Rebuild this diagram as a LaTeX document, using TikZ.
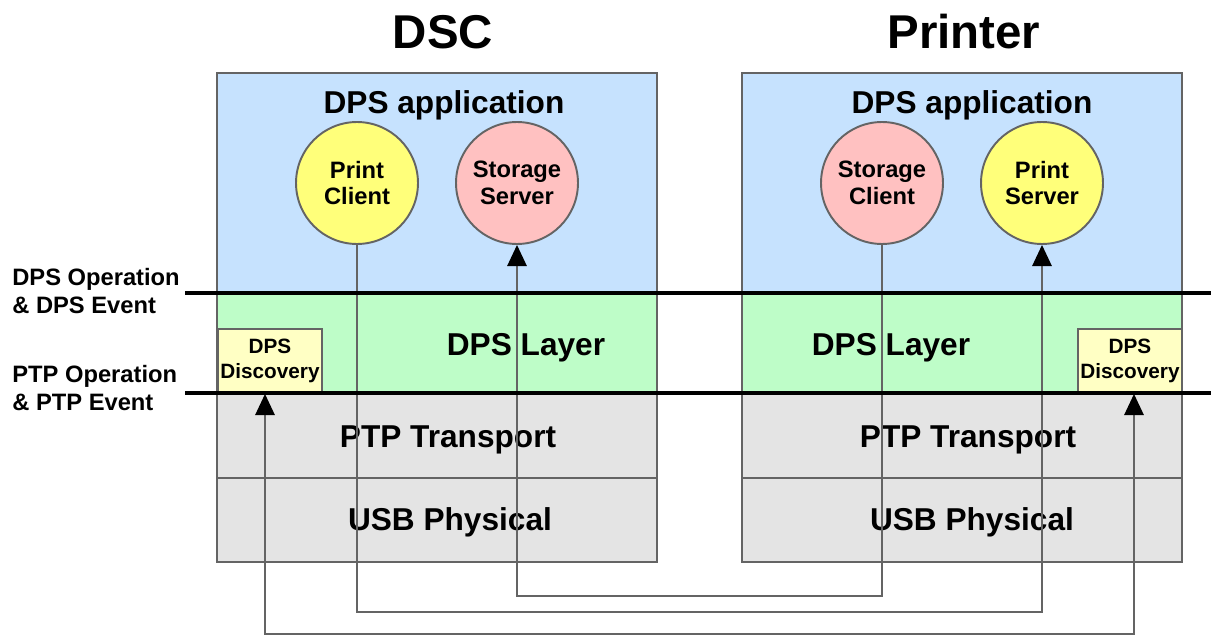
\documentclass[tikz,border=0pt]{standalone}
\usepackage{fontspec}
\setmainfont{Liberation Sans}
\usetikzlibrary{arrows.meta}

\definecolor{appblue}{RGB}{198,226,254}
\definecolor{layergreen}{RGB}{190,253,200}
\definecolor{ptpgray}{RGB}{228,228,228}
\definecolor{clientyellow}{RGB}{255,255,122}
\definecolor{serverpink}{RGB}{255,193,193}
\definecolor{discyellow}{RGB}{255,255,196}
\definecolor{edgegray}{RGB}{100,100,100}

\begin{document}
\begin{tikzpicture}[x=0.02cm,y=-0.02cm,>={Triangle[width=11pt,length=12pt,black]},
    frame/.style={draw=edgegray,line width=1.1pt},
    role/.style={circle,draw=edgegray,line width=1.1pt,minimum size=2.44cm,inner sep=0pt,align=center,font=\bfseries\fontsize{13.5}{15.3}\selectfont},
    disc/.style={draw=edgegray,line width=1.1pt,fill=discyellow,minimum width=2.08cm,minimum height=1.28cm,inner sep=0pt,align=center,font=\bfseries\fontsize{11.8}{14}\selectfont},
    big/.style={font=\bfseries\fontsize{18}{21}\selectfont},
    heading/.style={font=\bfseries\fontsize{27}{30}\selectfont},
    side/.style={anchor=west,align=left,inner sep=0pt,font=\bfseries\fontsize{13.5}{15.5}\selectfont},
    conn/.style={edgegray,line width=1.1pt},
    bus/.style={black,line width=2.3pt}]

    \useasboundingbox (0,0) rectangle (1211,635);

    % the two protocol stacks
    \foreach \x in {217,742} {
            \fill[appblue] (\x,73) rectangle ++(440,220);
            \fill[layergreen] (\x,293) rectangle ++(440,100);
            \fill[ptpgray] (\x,393) rectangle ++(440,169);
            \draw[frame] (\x,73) rectangle ++(440,489);
            \draw[frame] (\x,478) -- ++(440,0);
        }

    % titles
    \node[heading] (dsc) at (443,32) {DSC};
    \node[heading] (printer) at (964,32) {Printer};

    % layer names
    \node[big] (dscapp) at (444,105) {DPS application};
    \node[big] (prnapp) at (972,105) {DPS application};
    \node[big] (dsclayer) at (526,348) {DPS Layer};
    \node[big] (prnlayer) at (891,348) {DPS Layer};
    \node[big] (dscptp) at (448,440) {PTP Transport};
    \node[big] (prnptp) at (968,440) {PTP Transport};
    \node[big] (dscusb) at (450,522) {USB Physical};
    \node[big] (prnusb) at (972,522) {USB Physical};

    % discovery boxes
    \node[disc] (ddsc) at (270,361) {DPS\\Discovery};
    \node[disc] (dprn) at (1130,361) {DPS\\Discovery};

    % service circles
    \node[role,fill=clientyellow] (pclient) at (357,183) {Print\\Client};
    \node[role,fill=serverpink] (sserver) at (517,183) {Storage\\Server};
    \node[role,fill=serverpink] (sclient) at (882,183) {Storage\\Client};
    \node[role,fill=clientyellow] (pserver) at (1042,183) {Print\\Server};

    % links between the two sides
    \draw[conn,->] (pclient.south) -- ++(0,367) -| (pserver.south);
    \draw[conn,->] (sclient.south) -- ++(0,351) -| (sserver.south);
    \draw[conn,<->] ([xshift=-0.1cm]ddsc.south) -- ++(0,240) -| ([xshift=0.08cm]dprn.south);

    % interface lines
    \draw[bus] (185,293) -- (1211,293);
    \draw[bus] (185,393) -- (1211,393);

    \node[side] (dpsop) at (12,291) {DPS Operation\\\& DPS Event};
    \node[side] (ptpop) at (12,388) {PTP Operation\\\& PTP Event};

\end{tikzpicture}
\end{document}
